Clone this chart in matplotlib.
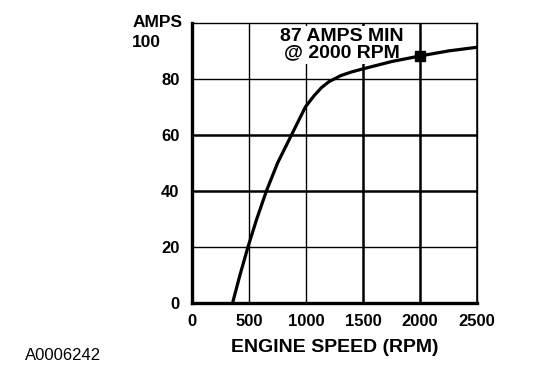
import matplotlib.pyplot as plt

plt.rcParams['font.family'] = ['Liberation Sans', 'DejaVu Sans']
plt.rcParams['font.weight'] = 'bold'

# curve
rpm = [355, 420, 490, 567, 652, 750, 872, 994, 1070, 1135, 1200, 1305, 1400, 1500, 1750, 2000, 2250, 2500]
amps = [0, 10, 20, 30, 40, 50, 60, 70, 74, 76.9, 79, 81.2, 82.5, 83.6, 86.2, 88.2, 90, 91.3]
mark_rpm = [2000]
mark_amps = [88.2]
xticks = [0, 500, 1000, 1500, 2000, 2500]
yticks = [0, 20, 40, 60, 80]

fig = plt.figure(figsize=(5.6, 3.88), dpi=100)
ax = fig.add_axes([0.343, 0.219, 0.509, 0.722])

ax.plot(rpm, amps, color='black', lw=2.3, zorder=3)
ax.plot(mark_rpm, mark_amps, 's', color='black', ms=6.5, zorder=3)

ax.set_xlim(0, 2500)
ax.set_ylim(0, 100)
ax.set_xticks(xticks)
ax.set_yticks(yticks)
ax.tick_params(length=0, labelsize=12)
ax.tick_params(axis='x', pad=8)
ax.tick_params(axis='y', pad=9)
for lab in ax.get_xticklabels() + ax.get_yticklabels():
    lab.set_fontweight('bold')
ax.set_axisbelow(True)
ax.grid(True, color='black', lw=1.8)
# some grid lines look lighter in the original
for i in [1, 2]:
    ax.get_xgridlines()[i].set_linewidth(1.0)
for i in [1, 4]:
    ax.get_ygridlines()[i].set_linewidth(1.0)
for name, s in ax.spines.items():
    s.set_linewidth(2.4 if name in ('left', 'bottom') else 1.0)
    s.set_zorder(3)

ax.set_xlabel('ENGINE SPEED (RPM)', fontsize=14, fontweight='bold', labelpad=7)
ax.text(-0.21, 1.0, 'AMPS', transform=ax.transAxes, fontsize=12.5,
        fontweight='bold', ha='left', va='center')
ax.text(-0.21, 0.929, '100', transform=ax.transAxes, fontsize=12.5,
        fontweight='bold', ha='left', va='center')
ax.text(0.526, 0.922, '87 AMPS MIN\n@ 2000 RPM', transform=ax.transAxes,
        fontsize=14, fontweight='bold', ha='center', va='center',
        linespacing=0.95, zorder=2.6,
        bbox=dict(facecolor='white', edgecolor='none', pad=1.5))
fig.text(0.045, 0.085, 'A0006242', fontsize=12, fontweight='normal',
         ha='left', va='center')

fig.savefig('out.png', dpi=100)
